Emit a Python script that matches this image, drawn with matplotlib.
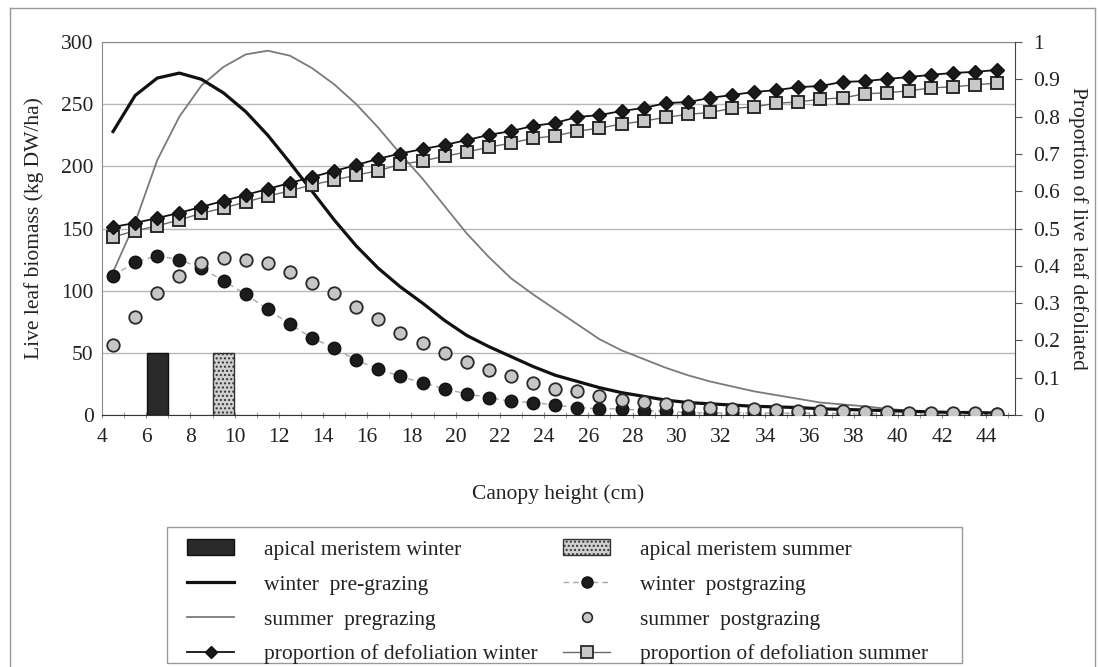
import matplotlib
matplotlib.use("Agg")
import matplotlib.pyplot as plt
from matplotlib.lines import Line2D
from matplotlib.patches import Patch, Rectangle
import numpy as np

plt.rcParams['font.family'] = ['Liberation Serif', 'DejaVu Serif']
plt.rcParams['hatch.color'] = '#a8a8a8'

# canopy heights (cm) at which the model was evaluated
heights = [4.5, 5.5, 6.5, 7.5, 8.5, 9.5, 10.5, 11.5, 12.5, 13.5,
           14.5, 15.5, 16.5, 17.5, 18.5, 19.5, 20.5, 21.5, 22.5, 23.5,
           24.5, 25.5, 26.5, 27.5, 28.5, 29.5, 30.5, 31.5, 32.5, 33.5,
           34.5, 35.5, 36.5, 37.5, 38.5, 39.5, 40.5, 41.5, 42.5, 43.5,
           44.5]

# live leaf biomass (kg DW/ha)
winter_pre = [228, 257, 271, 275, 270, 259, 244, 225, 203, 180,
              157, 136, 118, 103, 90, 76, 64, 55, 47, 39,
              32, 27, 22, 18, 15, 12, 10, 9, 8, 7,
              6.5, 6, 5, 4.5, 4, 3.5, 3, 2.5, 2, 2,
              1.5]
summer_pre = [115, 155, 205, 240, 265, 280, 290, 293, 289, 279,
              266, 250, 231, 210, 190, 168, 146, 127, 110, 97,
              85, 73, 61, 52, 45, 38, 32, 27, 23, 19,
              16, 13, 10, 8.5, 7, 5, 3.5, 2, 1.5, 1,
              1]
winter_post = [112, 123, 128, 125, 118, 108, 97, 85, 73, 62,
               54, 44, 37, 31, 26, 21, 17, 14, 11, 10,
               8, 6, 5, 5, 3.5, 3, 2, 1.5, 2, 1.5,
               1.5, 1.5, 1.5, 1, 1, 1, 1, 0.5, 0.5, 0.5,
               0.5]
summer_post = [56, 79, 98, 112, 122, 126, 125, 122, 115, 106,
               98, 87, 77, 66, 58, 50, 43, 36, 31, 26,
               21, 19, 15, 12, 10.5, 9, 7, 5.5, 5, 5,
               4, 3.5, 3, 3, 2.5, 2.5, 2, 2, 1.5, 1.5,
               1]

# proportion of live leaf defoliated
prop_winter = [0.504, 0.515, 0.528, 0.542, 0.558, 0.574, 0.590, 0.606, 0.622, 0.638,
               0.654, 0.670, 0.687, 0.701, 0.713, 0.724, 0.737, 0.751, 0.761, 0.775,
               0.783, 0.799, 0.804, 0.815, 0.823, 0.836, 0.839, 0.850, 0.858, 0.866,
               0.871, 0.879, 0.882, 0.893, 0.895, 0.901, 0.906, 0.912, 0.917, 0.920,
               0.925]
prop_summer = [0.477, 0.494, 0.507, 0.523, 0.541, 0.555, 0.571, 0.587, 0.601, 0.617,
               0.630, 0.643, 0.655, 0.672, 0.681, 0.694, 0.705, 0.718, 0.729, 0.742,
               0.748, 0.761, 0.769, 0.780, 0.788, 0.798, 0.806, 0.811, 0.822, 0.826,
               0.836, 0.839, 0.847, 0.850, 0.861, 0.864, 0.869, 0.877, 0.880, 0.885,
               0.890]

# apical meristem heights (cm) and bar height on the biomass axis
meristem_winter = 6.5
meristem_summer = 9.5
meristem_bar = 50

left_ticks = [0, 50, 100, 150, 200, 250, 300]
right_ticks = [0, 0.1, 0.2, 0.3, 0.4, 0.5, 0.6, 0.7, 0.8, 0.9, 1]
right_labels = ['0', '0.1', '0.2', '0.3', '0.4', '0.5', '0.6', '0.7', '0.8', '0.9', '1']
x_ticks = list(range(4, 45, 2))

TXT = '#222222'
FS = 15.5
W, H = 1098, 667

fig = plt.figure(figsize=(10.98, 6.67), dpi=100)
ax = fig.add_axes([102 / W, 1 - 415 / H, (1015 - 102) / W, (415 - 42) / H])

ax.set_xlim(4, 45.3)
ax.set_ylim(0, 300)
ax.set_yticks(left_ticks)
ax.set_xticks(x_ticks)
ax.set_xticks(range(5, 46, 1), minor=True)
ax.grid(axis='y', color='#b8b8b8', lw=1.0)
ax.set_axisbelow(True)
ax.tick_params(axis='y', length=0, labelsize=FS, colors=TXT, pad=6)
ax.tick_params(axis='x', which='both', direction='inout', length=5, color='#888888',
               labelsize=FS, labelcolor=TXT, pad=7)
for side in ['left', 'top']:
    ax.spines[side].set_color('#8a8a8a')
ax.spines['bottom'].set_color('#333333')
ax.spines['right'].set_visible(False)

# apical meristem bars
ax.bar([meristem_winter], [meristem_bar], width=0.95, color='#2a2a2a', edgecolor='#111111', lw=1, zorder=2)
ax.bar([meristem_summer], [meristem_bar], width=0.95, color='#d0d0d0', edgecolor='#333333', lw=1,
       hatch='....', zorder=2)

# pre-grazing curves
ax.plot(heights, summer_pre, color='#7a7a7a', lw=1.3, zorder=3)
ax.plot(heights, winter_pre, color='#111111', lw=2.3, zorder=3)

# post-grazing points
ax.plot(heights, winter_post, ls=(0, (4, 3)), color='#a8a8a8', lw=1.0, marker='o', ms=9,
        mfc='#1c1c1c', mec='#111111', zorder=4)
ax.plot(heights, summer_post, ls='none', marker='o', ms=9, mfc='#c6c6c6', mec='#2a2a2a',
        mew=1.3, zorder=5)

ax.set_ylabel('Live leaf biomass (kg DW/ha)', fontsize=FS, color=TXT, labelpad=12)
ax.set_xlabel('Canopy height (cm)', fontsize=FS, color=TXT, labelpad=27)

# proportion defoliated on the secondary axis
ax2 = ax.twinx()
ax2.set_ylim(0, 1)
ax2.set_yticks(right_ticks)
ax2.set_yticklabels(right_labels)
ax2.tick_params(axis='y', direction='out', length=5, color='#555555', labelsize=FS,
                labelcolor=TXT, pad=8)
for side in ['left', 'top', 'bottom']:
    ax2.spines[side].set_visible(False)
ax2.spines['right'].set_color('#444444')
ax2.plot(heights, prop_summer, color='#6a6a6a', lw=1.0, marker='s', ms=9,
         mfc='#c8c8c8', mec='#2a2a2a', mew=1.4, zorder=3)
ax2.plot(heights, prop_winter, color='#111111', lw=1.3, marker='D', ms=7,
         mfc='#1a1a1a', mec='#111111', zorder=4)
ax2.set_ylabel('Proportion of live leaf defoliated', fontsize=FS, color=TXT,
               rotation=270, labelpad=20)

handles = [
    Patch(facecolor='#2a2a2a', edgecolor='#111111'),
    Line2D([], [], color='#111111', lw=2.3),
    Line2D([], [], color='#7a7a7a', lw=1.3),
    Line2D([], [], color='#111111', lw=1.3, marker='D', ms=6, mfc='#1a1a1a'),
    Patch(facecolor='#d0d0d0', edgecolor='#333333', hatch='....'),
    Line2D([], [], ls=(0, (4, 3)), color='#a8a8a8', lw=1.0, marker='o', ms=8, mfc='#1c1c1c', mec='#111111'),
    Line2D([], [], ls='none', marker='o', ms=7, mfc='#c6c6c6', mec='#2a2a2a', mew=1.2),
    Line2D([], [], color='#6a6a6a', lw=1.0, marker='s', ms=8, mfc='#c8c8c8', mec='#2a2a2a', mew=1.3),
]
labels = [
    'apical meristem winter', 'winter  pre-grazing', 'summer  pregrazing',
    'proportion of defoliation winter', 'apical meristem summer',
    'winter  postgrazing', 'summer  postgrazing', 'proportion of defoliation summer',
]
leg = fig.legend(handles, labels, ncol=2, loc='upper left',
                 bbox_to_anchor=(187 / W, 1 - 539 / H), borderaxespad=0,
                 frameon=False, fontsize=FS,
                 handlelength=2.2, handleheight=0.8, handletextpad=1.4,
                 columnspacing=1.15, labelspacing=0.66, borderpad=0)
for t in leg.get_texts():
    t.set_color(TXT)

# legend box
fig.add_artist(Rectangle((167 / W, 1 - 663 / H), (962 - 167) / W, (663 - 527) / H,
                         transform=fig.transFigure, fill=False, ec='#9a9a9a', lw=1.0))

# outer chart border
for xs, ys in [([10, 1095], [8, 8]), ([10, 10], [8, 667]), ([1095, 1095], [8, 667])]:
    fig.add_artist(Line2D([x / W for x in xs], [1 - y / H for y in ys],
                          transform=fig.transFigure, color='#999999', lw=1.0))

fig.savefig('out.png', dpi=100)
